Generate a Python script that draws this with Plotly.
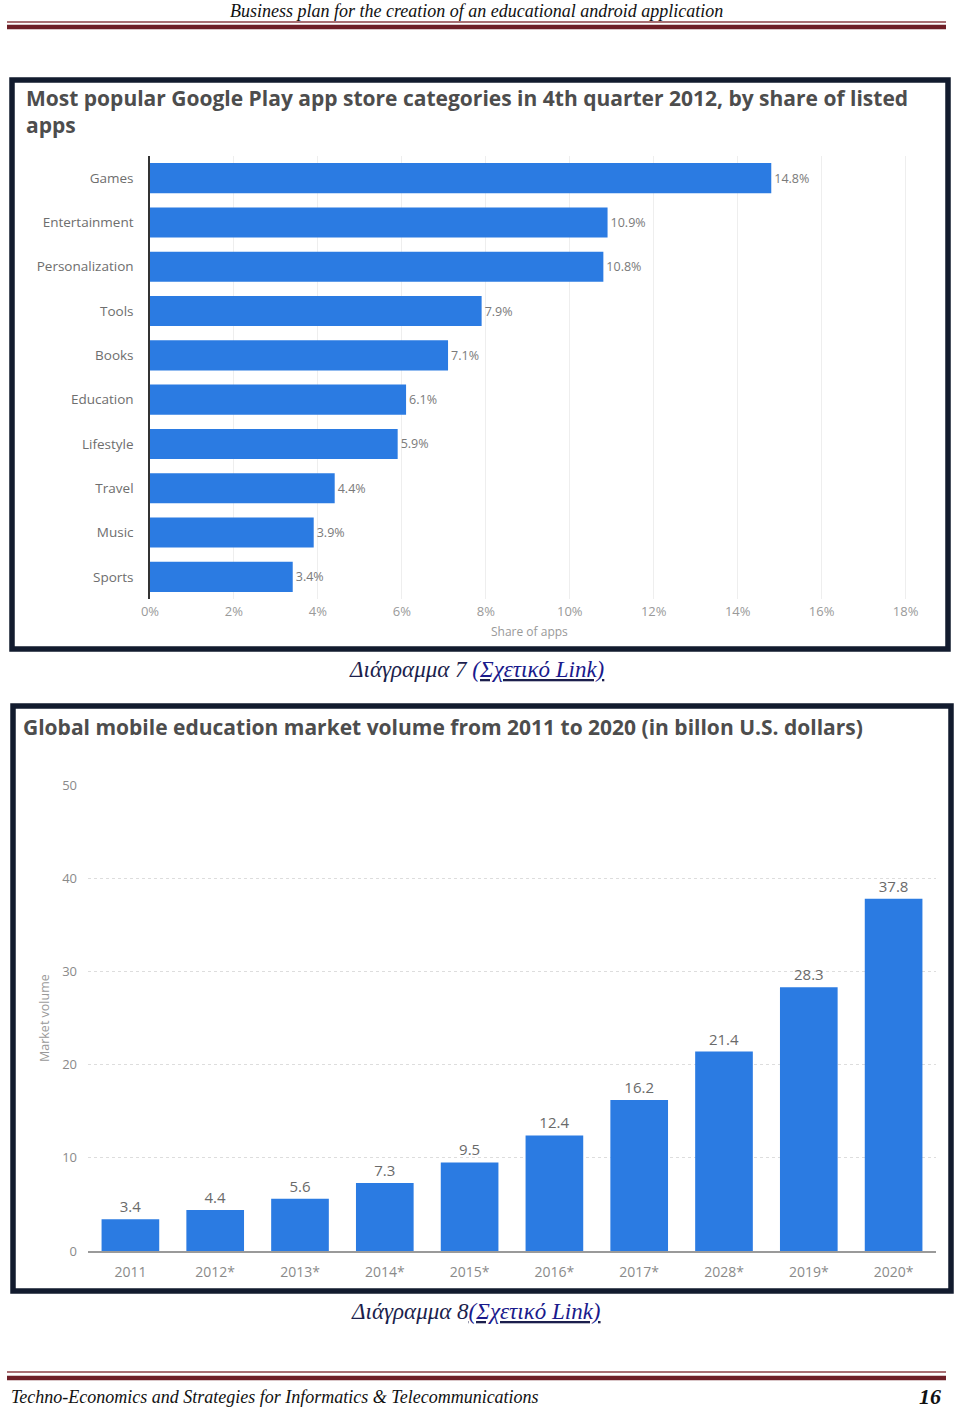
import plotly.graph_objects as go

# ---------------- data ----------------
categories = ["Games", "Entertainment", "Personalization", "Tools", "Books",
              "Education", "Lifestyle", "Travel", "Music", "Sports"]
shares = [14.8, 10.9, 10.8, 7.9, 7.1, 6.1, 5.9, 4.4, 3.9, 3.4]
share_ticks = [0, 2, 4, 6, 8, 10, 12, 14, 16, 18]

years = ["2011", "2012*", "2013*", "2014*", "2015*", "2016*", "2017*", "2028*", "2019*", "2020*"]
volumes = [3.4, 4.4, 5.6, 7.3, 9.5, 12.4, 16.2, 21.4, 28.3, 37.8]
volume_ticks = [0, 10, 20, 30, 40, 50]

# ---------------- helpers ----------------
W, H = 960, 1409
def px(x):
    return x / W
def py(y):
    return 1 - y / H

BLUE = "#2b7be2"
FRAME = "#121b2e"
MAROON = "#6e1f27"
SERIF = "Liberation Serif"
SANS = "Open Sans"

fig = go.Figure()

fig.add_trace(go.Bar(
    x=shares, y=categories, orientation="h",
    marker=dict(color=BLUE, line=dict(width=0)),
    width=0.68,
    text=[f"{v}%" for v in shares], textposition="outside",
    textfont=dict(family=SANS, size=12.5, color="#7a7a7a"),
    cliponaxis=False, xaxis="x", yaxis="y", hoverinfo="skip",
))

fig.add_trace(go.Bar(
    x=years, y=volumes,
    marker=dict(color=BLUE, line=dict(width=0)),
    width=0.68,
    text=[f"{v}" for v in volumes], textposition="outside",
    textfont=dict(family=SANS, size=15, color="#6a6a6a"),
    cliponaxis=False, xaxis="x2", yaxis="y2", hoverinfo="skip",
))

shapes = []
# header lines
shapes.append(dict(type="line", xref="paper", yref="paper", x0=px(7), x1=px(946), y0=py(22), y1=py(22),
                   line=dict(color="#8c4046", width=1.5)))
shapes.append(dict(type="line", xref="paper", yref="paper", x0=px(7), x1=px(946), y0=py(27), y1=py(27),
                   line=dict(color=MAROON, width=4.5)))
# footer lines
shapes.append(dict(type="line", xref="paper", yref="paper", x0=px(7), x1=px(946), y0=py(1372), y1=py(1372),
                   line=dict(color="#8c4046", width=1.5)))
shapes.append(dict(type="line", xref="paper", yref="paper", x0=px(7), x1=px(946), y0=py(1378), y1=py(1378),
                   line=dict(color=MAROON, width=4.5)))
# chart frames
shapes.append(dict(type="rect", xref="paper", yref="paper", x0=px(12), x1=px(948), y0=py(80), y1=py(649),
                   line=dict(color=FRAME, width=5.5), fillcolor="white", layer="below"))
shapes.append(dict(type="rect", xref="paper", yref="paper", x0=px(13), x1=px(951), y0=py(706), y1=py(1291),
                   line=dict(color=FRAME, width=5.5), fillcolor="white", layer="below"))


def note(text, x, y, size, family, color, xanchor="center", yanchor="middle", angle=0):
    return dict(text=text, x=px(x), y=py(y), xref="paper", yref="paper",
                xanchor=xanchor, yanchor=yanchor, showarrow=False, textangle=angle,
                align="left", font=dict(family=family, size=size, color=color))


annotations = [
    note("<i>Business plan for the creation of an educational android application</i>",
         476, 11, 18, SERIF, "#111111"),
    note("<b>Most popular Google Play app store categories in 4th quarter 2012, by share of listed<br>apps</b>",
         24, 82, 21, SANS, "#4d4d4d", xanchor="left", yanchor="top"),
    note("Share of apps", 529, 631, 12, SANS, "#999999"),
    note("<i>Διάγραμμα 7 <u><span style='color:#1a1a8c'>(Σχετικό Link)</span></u></i>",
         476, 669, 23, SERIF, "#1c1f4d"),
    note("<b>Global mobile education market volume from 2011 to 2020 (in billon U.S. dollars)</b>",
         21, 727, 21, SANS, "#4d4d4d", xanchor="left"),
    note("Market volume", 45, 1018, 12.5, SANS, "#999999", angle=-90),
    note("<i>Διάγραμμα 8<u><span style='color:#1a1a8c'>(Σχετικό Link)</span></u></i>",
         476, 1311, 23, SERIF, "#1c1f4d"),
    note("<i>Techno-Economics and Strategies for Informatics &amp; Telecommunications</i>",
         9, 1397, 18, SERIF, "#111111", xanchor="left"),
    note("<b><i>16</i></b>", 943, 1396, 22, SERIF, "#111111", xanchor="right"),
]

fig.update_layout(
    width=W, height=H, autosize=False,
    margin=dict(l=0, r=0, t=0, b=0, pad=0),
    paper_bgcolor="white", plot_bgcolor="rgba(0,0,0,0)",
    showlegend=False, bargap=0.32,
    shapes=shapes, annotations=annotations,
    xaxis=dict(domain=[px(150), px(914)], range=[0, 18.2], anchor="y", automargin=False,
               tickvals=share_ticks, ticktext=[f"{t}%" for t in share_ticks],
               tickfont=dict(family=SANS, size=13, color="#9a9a9a"),
               showgrid=True, gridcolor="#eeeeee", gridwidth=1, zeroline=False,
               showline=False, ticklabelstandoff=3, fixedrange=True),
    yaxis=dict(domain=[py(599), py(156)], anchor="x", automargin=False,
               categoryorder="array", categoryarray=categories[::-1],
               tickfont=dict(family=SANS, size=13.5, color="#6e6e6e"),
               showline=True, linecolor="#333333", linewidth=1.5,
               showgrid=False, zeroline=False, ticklabelstandoff=12, fixedrange=True),
    xaxis2=dict(domain=[px(88), px(936)], anchor="y2", automargin=False,
                tickfont=dict(family=SANS, size=14, color="#8a8a8a"),
                showline=True, linecolor="#9a9a9a", linewidth=2,
                showgrid=False, zeroline=False, ticklabelstandoff=7, fixedrange=True),
    yaxis2=dict(domain=[py(1251), py(785)], range=[0, 50], anchor="x2", automargin=False,
                tickvals=volume_ticks,
                tickfont=dict(family=SANS, size=13, color="#8a8a8a"),
                showgrid=True, gridcolor="#dddddd", griddash="dot", gridwidth=1,
                zeroline=False, showline=False, ticklabelstandoff=10, fixedrange=True),
)

fig.write_html("out.html", config={"displayModeBar": False},
               post_script="document.body.style.margin='0';")
